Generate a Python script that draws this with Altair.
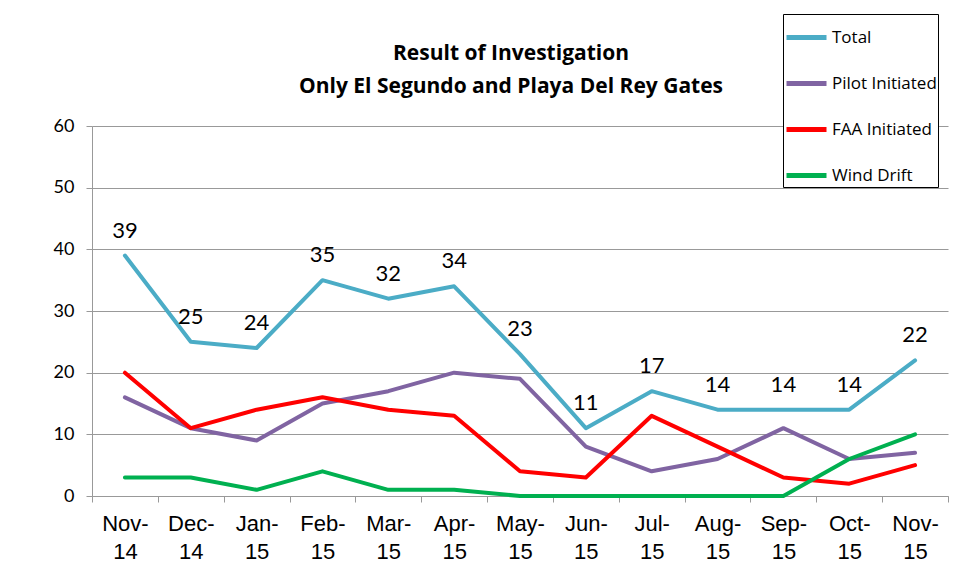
import altair as alt
import pandas as pd

months = ["Nov-14", "Dec-14", "Jan-15", "Feb-15", "Mar-15", "Apr-15", "May-15",
          "Jun-15", "Jul-15", "Aug-15", "Sep-15", "Oct-15", "Nov-15"]
series_names = ["Total", "Pilot Initiated", "FAA Initiated", "Wind Drift"]
series_colors = ["#4BACC6", "#8064A2", "#FF0000", "#00B050"]

total = [39, 25, 24, 35, 32, 34, 23, 11, 17, 14, 14, 14, 22]
pilot = [16, 11, 9, 15, 17, 20, 19, 8, 4, 6, 11, 6, 7]
faa = [20, 11, 14, 16, 14, 13, 4, 3, 13, 8, 3, 2, 5]
wind = [3, 3, 1, 4, 1, 1, 0, 0, 0, 0, 0, 6, 10]

rows = []
for name, vals in zip(series_names, [total, pilot, faa, wind]):
    for m, v in zip(months, vals):
        rows.append({"month": m, "series": name, "value": v})
df = pd.DataFrame(rows)

x_enc = alt.X(
    "month:N",
    sort=months,
    scale=alt.Scale(type="band", domain=months, paddingInner=0, paddingOuter=0),
    axis=alt.Axis(
        title=None,
        labelAngle=0,
        labelExpr="[slice(datum.label, 0, 4), slice(datum.label, 4)]",
        labelFont="Liberation Sans",
        labelFontSize=22,
        labelLineHeight=28,
        labelColor="#000000",
        labelPadding=11,
        tickBand="extent",
        tickSize=6,
        tickColor="#999999",
        domainColor="#999999",
        grid=False,
    ),
)

y_enc = alt.Y(
    "value:Q",
    scale=alt.Scale(domain=[0, 60], nice=False),
    axis=alt.Axis(
        title=None,
        values=[0, 10, 20, 30, 40, 50, 60],
        labelFont="Lato",
        labelFontSize=18,
        labelColor="#000000",
        labelPadding=12,
        tickSize=6,
        tickColor="#999999",
        domainColor="#999999",
        gridColor="#999999",
        gridWidth=1,
    ),
)

lines = alt.Chart(df).mark_line(strokeWidth=4, strokeJoin="round", strokeCap="round").encode(
    x=x_enc,
    y=y_enc,
    color=alt.Color(
        "series:N",
        scale=alt.Scale(domain=series_names, range=series_colors),
        legend=alt.Legend(
            title=None,
            orient="none",
            legendX=691,
            legendY=-112,
            fillColor="white",
            strokeColor="black",
            padding=1,
            symbolType="stroke",
            symbolStrokeWidth=5,
            symbolSize=1600,
            rowPadding=13,
            labelOffset=3,
            labelFont="Open Sans",
            labelFontSize=17,
            labelColor="#000000",
        ),
    ),
    detail="series:N",
)

labels = alt.Chart(df).transform_filter(alt.datum.series == "Total").mark_text(
    dy=-25, font="Lato", fontSize=22, color="#000000"
).encode(
    x=alt.X("month:N", sort=months),
    y="value:Q",
    text="value:Q",
)

chart = alt.layer(lines, labels).properties(
    width=856,
    height=370,
    autosize=alt.AutoSizeParams(type="none"),
    padding={"left": 84, "top": 118, "right": 15, "bottom": 84},
    title=alt.Title(
        ["Result of Investigation", "Only El Segundo and Playa Del Rey Gates"],
        font="Open Sans",
        fontSize=21,
        fontWeight="bold",
        color="#000000",
        anchor="middle",
        frame="group",
        lineHeight=33,
        offset=-83,
        dx=-9,
    ),
).configure_view(strokeWidth=0)

chart.save("out.html", embed_options={"renderer": "svg", "actions": False})
